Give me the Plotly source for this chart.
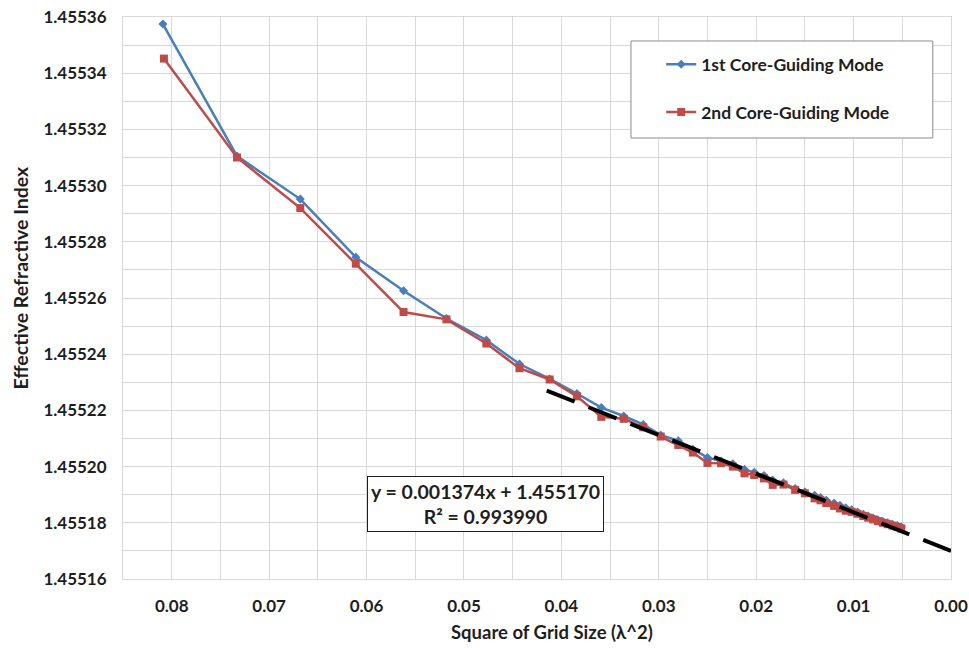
import numpy as np
import plotly.graph_objects as go

# Square of grid size (lambda^2) and effective index for the two core-guiding modes
grid_sq_1 = [0.0809, 0.0733, 0.0668, 0.0611, 0.0562, 0.0518, 0.0477, 0.0443, 0.0412,
             0.0384, 0.0359, 0.0336, 0.0316, 0.0298, 0.0280, 0.0265, 0.0250, 0.0236,
             0.0224, 0.0212, 0.0202, 0.0192, 0.0183, 0.0172, 0.0160, 0.0150, 0.0140,
             0.0134, 0.0128, 0.0120, 0.0114, 0.0108, 0.0102, 0.0096, 0.0090, 0.0085,
             0.0080, 0.0075, 0.0070, 0.0065, 0.0060, 0.0055, 0.0051]
n_eff_1 = [1.4553575, 1.4553105, 1.4552952, 1.4552745, 1.4552626, 1.4552527, 1.4552450,
           1.4552365, 1.4552312, 1.4552260, 1.4552210, 1.4552180, 1.4552150, 1.4552112,
           1.4552092, 1.4552062, 1.4552032, 1.4552020, 1.4552010, 1.4551990, 1.4551980,
           1.4551968, 1.4551952, 1.4551942, 1.4551922, 1.4551910, 1.4551898, 1.4551890,
           1.4551880, 1.4551870, 1.4551862, 1.4551853, 1.4551846, 1.4551838, 1.4551830,
           1.4551824, 1.4551817, 1.4551811, 1.4551805, 1.4551800, 1.4551795, 1.4551790,
           1.4551785]

grid_sq_2 = [0.0808, 0.0733, 0.0668, 0.0611, 0.0562, 0.0518, 0.0477, 0.0443, 0.0412,
             0.0384, 0.0359, 0.0336, 0.0316, 0.0298, 0.0280, 0.0265, 0.0250, 0.0236,
             0.0224, 0.0212, 0.0202, 0.0192, 0.0183, 0.0172, 0.0160, 0.0150, 0.0140,
             0.0134, 0.0128, 0.0120, 0.0114, 0.0108, 0.0102, 0.0096, 0.0090, 0.0085,
             0.0080, 0.0075, 0.0070, 0.0065, 0.0060, 0.0055, 0.0051]
n_eff_2 = [1.4553452, 1.4553100, 1.4552920, 1.4552722, 1.4552550, 1.4552524, 1.4552438,
           1.4552350, 1.4552310, 1.4552250, 1.4552177, 1.4552170, 1.4552140, 1.4552107,
           1.4552077, 1.4552050, 1.4552013, 1.4552012, 1.4552000, 1.4551976, 1.4551970,
           1.4551958, 1.4551935, 1.4551936, 1.4551917, 1.4551905, 1.4551887, 1.4551880,
           1.4551870, 1.4551860, 1.4551851, 1.4551843, 1.4551839, 1.4551832, 1.4551824,
           1.4551818, 1.4551812, 1.4551806, 1.4551800, 1.4551795, 1.4551790, 1.4551785,
           1.4551780]

# Linear fit of the fine-grid region, extrapolated to zero grid size
trend_slope = 0.001374
trend_intercept = 1.455170
trend_r2 = 0.993990
trend_x_from = 0.0415

font_family = "Lato"
text_color = "#1e1e1e"
grid_color = "#d9d9d9"

fig = go.Figure()

fig.add_trace(go.Scatter(
    x=grid_sq_1, y=n_eff_1, mode="lines+markers", name="1st Core-Guiding Mode",
    legendgroup="m1",
    line=dict(color="#4a7ebb", width=2.5),
    marker=dict(symbol="diamond", size=7, color="#4a7ebb"),
))
fig.add_trace(go.Scatter(
    x=grid_sq_2, y=n_eff_2, mode="lines+markers", name="2nd Core-Guiding Mode",
    legendgroup="m2",
    line=dict(color="#be4b48", width=2.5),
    marker=dict(symbol="square", size=8, color="#be4b48"),
))

trend_x = np.array([trend_x_from, 0.0])
trend_y = trend_slope * trend_x + trend_intercept
fig.add_trace(go.Scatter(
    x=trend_x, y=trend_y, mode="lines", showlegend=False,
    line=dict(color="black", width=4, dash="30px,15px"),
    hoverinfo="skip",
))

axis_common = dict(
    showgrid=True, gridcolor=grid_color, gridwidth=1,
    showline=True, linecolor=grid_color, linewidth=1, mirror=True,
    zeroline=False, ticks="", automargin=False,
    tickfont=dict(family=font_family, size=17, color=text_color, weight="bold"),
)

fig.update_xaxes(
    range=[0.085, 0.0], dtick=0.01, tick0=0, tickformat=".2f",
    minor=dict(dtick=0.005, showgrid=True, gridcolor=grid_color, gridwidth=1),
    ticklabelstandoff=12,
    **axis_common,
)
fig.update_yaxes(
    range=[1.45516, 1.45536], dtick=0.00002, tick0=1.45516, tickformat=".5f",
    minor=dict(dtick=0.00001, showgrid=True, gridcolor=grid_color, gridwidth=1),
    ticklabelstandoff=12,
    **axis_common,
)

# Legend frame
fig.add_shape(type="rect", xref="paper", yref="paper",
              x0=0.6135, x1=0.978, y0=0.7847, y1=0.9573,
              line=dict(color="#8c8c8c", width=1), fillcolor="white", layer="above")

fig.update_layout(
    width=969, height=648,
    margin=dict(l=123, r=18, t=17, b=69),
    paper_bgcolor="white", plot_bgcolor="white",
    showlegend=True,
    legend=dict(
        x=0.650, y=0.9477, xanchor="left", yanchor="top",
        bgcolor="rgba(0,0,0,0)", borderwidth=0,
        font=dict(family=font_family, size=17.5, color=text_color, weight="bold"),
        tracegroupgap=22, itemwidth=30,
    ),
    annotations=[
        dict(
            text=f"y = {trend_slope:.6f}x + {trend_intercept:.6f}<br>R² = {trend_r2:.6f}",
            xref="paper", yref="paper", x=0.4372, y=0.1343,
            xanchor="center", yanchor="middle", showarrow=False, align="center",
            font=dict(family=font_family, size=19.5, color=text_color, weight="bold"),
            bgcolor="white", bordercolor="#1e1e1e", borderwidth=1, borderpad=3,
        ),
        dict(
            text="Square of Grid Size (λ^2)",
            xref="paper", yref="paper", x=0.518, y=-0.095,
            xanchor="center", yanchor="middle", showarrow=False,
            font=dict(family=font_family, size=18.5, color=text_color, weight="bold"),
        ),
        dict(
            text="Effective Refractive Index",
            xref="paper", yref="paper", x=-0.124, y=0.537,
            xanchor="center", yanchor="middle", showarrow=False, textangle=-90,
            font=dict(family=font_family, size=19.5, color=text_color, weight="bold"),
        ),
    ],
)

fig.write_html("out.html")
